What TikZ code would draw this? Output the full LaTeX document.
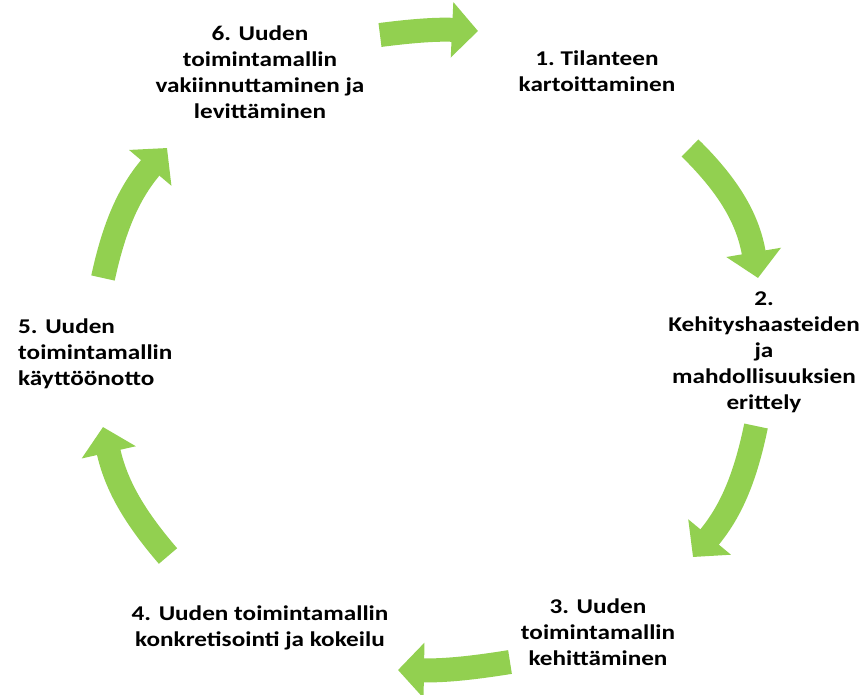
\documentclass[tikz,border=0pt]{standalone}
\usepackage{fontspec}
\setmainfont[FakeStretch=1.2]{Carlito}
\usetikzlibrary{arrows.meta}
\definecolor{ggreen}{RGB}{146,208,80}
\tikzset{
  garrow/.style={draw=ggreen, line width=24pt, -{Triangle[length=26pt,width=54pt]}},
  lbl/.style={inner sep=0pt, align=center, font=\fontsize{21}{26}\selectfont\bfseries, text=black},
}
\begin{document}
\begin{tikzpicture}[x=1pt,y=1pt]
\useasboundingbox (0,0) rectangle (864,-694);
% text nodes
\node[lbl] (t6) at (260,-72) {6. Uuden\\toimintamallin\\vakiinnuttaminen ja\\levittäminen};
\node[lbl] (t1) at (597,-71) {1.\ Tilanteen\\kartoittaminen};
\node[lbl] (t2) at (764,-352) {2.\\Kehityshaasteiden\\ja\\mahdollisuuksien\\erittely};
\node[lbl] (t3) at (598,-632) {3. Uuden\\toimintamallin\\kehittäminen};
\node[lbl] (t4) at (260,-628) {4. Uuden toimintamallin\\konkretisointi ja kokeilu};
\node[lbl, align=left, anchor=west] (t5) at (18,-354) {5. Uuden\\toimintamallin\\käyttöönotto};
% arrow endpoints
\coordinate (a1s) at (380,-35);
\coordinate (a1e) at (478,-31);
\coordinate (a2s) at (690,-148);
\coordinate (a2e) at (758,-278);
\coordinate (a3s) at (756,-426);
\coordinate (a3e) at (693,-557);
\coordinate (a4s) at (510,-662);
\coordinate (a4e) at (398,-670);
\coordinate (a5s) at (168,-556);
\coordinate (a5e) at (103,-427);
\coordinate (a6s) at (103,-278);
\coordinate (a6e) at (167,-148);
\draw[garrow] (a1s) to[bend left=5] (a1e);
\draw[garrow] (a2s) to[bend left=18] (a2e);
\draw[garrow] (a3s) to[bend left=14] (a3e);
\draw[garrow] (a4s) to[bend left=5] (a4e);
\draw[garrow] (a5s) to[bend left=14] (a5e);
\draw[garrow] (a6s) to[bend left=14] (a6e);
\end{tikzpicture}
\end{document}
